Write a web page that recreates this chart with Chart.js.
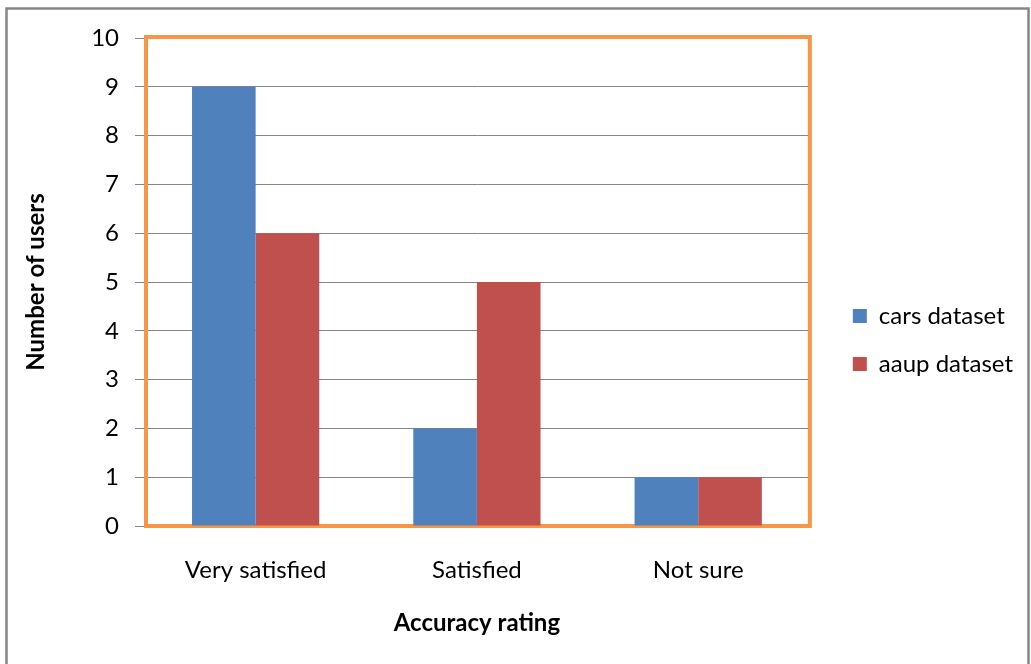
<!DOCTYPE html>
<html>
<head>
<meta charset="utf-8">
<script src="https://cdn.jsdelivr.net/npm/chart.js@4/dist/chart.umd.min.js"></script>
<style>
html,body{margin:0;padding:0;background:#fff;}
#wrap{position:relative;width:1031px;height:664px;}
</style>
</head>
<body>
<div id="wrap"><canvas id="c" width="1031" height="664"></canvas></div>
<script>
const categories = ["Very satisfied", "Satisfied", "Not sure"];
const carsDataset = [9, 2, 1];
const aaupDataset = [6, 5, 1];
const seriesNames = ["cars dataset", "aaup dataset"];
const yTicks = [0,1,2,3,4,5,6,7,8,9,10];

const FONT = "Lato, 'Open Sans', sans-serif";
const LEGEND_SHIFT = 20;

const framePlugin = {
  id: 'frame',
  afterLayout(chart) {
    const lg = chart.legend;
    if (lg) { lg.left += LEGEND_SHIFT; lg.right += LEGEND_SHIFT; }
  },
  beforeDraw(chart) {
    const ctx = chart.ctx;
    ctx.save();
    ctx.fillStyle = '#fff';
    ctx.fillRect(0,0,chart.width,chart.height);
    ctx.strokeStyle = '#868686';
    ctx.lineWidth = 2.5;
    ctx.strokeRect(6.5, 8.5, 1022, 670);
    ctx.restore();
  },
  beforeDatasetsDraw(chart) {
    const a = chart.chartArea;
    const ctx = chart.ctx;
    ctx.save();
    ctx.strokeStyle = '#F79646';
    ctx.lineWidth = 4;
    ctx.strokeRect(a.left + 1, a.top - 1, a.right - a.left, a.bottom - a.top + 1);
    ctx.restore();
  }
};

new Chart(document.getElementById('c'), {
  type: 'bar',
  data: {
    labels: categories,
    datasets: [
      { label: seriesNames[0], data: carsDataset, backgroundColor: '#4F81BD', borderWidth: 0 },
      { label: seriesNames[1], data: aaupDataset, backgroundColor: '#C0504D', borderWidth: 0 }
    ]
  },
  options: {
    responsive: false,
    animation: false,
    devicePixelRatio: 1,
    layout: { padding: { left: 18, top: 38, right: 28, bottom: 22 } },
    datasets: { bar: { categoryPercentage: 0.575, barPercentage: 1.0 } },
    plugins: {
      tooltip: { enabled: false },
      legend: {
        position: 'right',
        align: 'center',
        labels: {
          boxWidth: 14, boxHeight: 14, padding: 24,
          color: '#000',
          font: { family: FONT, size: 24 }
        }
      }
    },
    scales: {
      x: {
        grid: { display: false, drawTicks: false },
        border: { color: '#868686', width: 1 },
        ticks: { color: '#000', font: { family: FONT, size: 24 }, padding: 30 },
        title: { display: true, text: 'Accuracy rating', color: '#000',
                 font: { family: FONT, size: 24, weight: 'bold' }, padding: { top: 20 } },
        afterFit(s) { s.height = 116; }
      },
      y: {
        min: 0, max: 10,
        afterBuildTicks(s) { s.ticks = yTicks.map(v => ({ value: v })); },
        grid: { color: '#868686', lineWidth: 1, tickLength: 10, drawTicks: true },
        border: { color: '#868686', width: 1 },
        ticks: { color: '#000', font: { family: FONT, size: 24 }, padding: 16 },
        title: { display: true, text: 'Number of users', color: '#000',
                 font: { family: FONT, size: 24, weight: 'bold' }, padding: { bottom: 10 } },
        afterFit(s) { s.width = 127; }
      }
    }
  },
  plugins: [framePlugin]
});
</script>
</body>
</html>
